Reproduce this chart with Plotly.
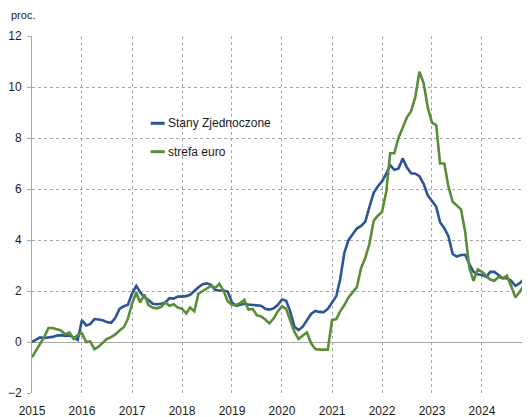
import pandas as pd
import plotly.graph_objects as go

# miesiace: styczen 2015 - grudzien 2024
miesiace = pd.date_range("2015-01-01", periods=120, freq="MS")

usa = [
    0.0, 0.1, 0.18, 0.16, 0.17, 0.2, 0.25, 0.27, 0.24, 0.25, 0.18, 0.08,
    0.86, 0.65, 0.7, 0.9, 0.88, 0.85, 0.78, 0.75, 0.95, 1.3, 1.4, 1.45,
    1.9, 2.2, 1.95, 1.75, 1.65, 1.5, 1.48, 1.5, 1.55, 1.72, 1.7, 1.78,
    1.78, 1.8, 1.85, 2.02, 2.15, 2.27, 2.3, 2.24, 2.04, 2.02, 2.02, 1.98,
    1.55, 1.42, 1.45, 1.5, 1.47, 1.45, 1.45, 1.42, 1.3, 1.27, 1.32, 1.45,
    1.67, 1.62, 1.2, 0.6, 0.47, 0.6, 0.85, 1.1, 1.22, 1.18, 1.17, 1.3,
    1.55, 1.8, 2.45, 3.5, 4.0, 4.25, 4.45, 4.55, 4.72, 5.3, 5.85, 6.1,
    6.3, 6.6, 6.94, 6.75, 6.8, 7.2, 6.85, 6.62, 6.6, 6.5, 6.2, 5.75,
    5.5, 5.3, 4.7, 4.46, 4.15, 3.45, 3.35, 3.41, 3.42, 3.05, 2.75, 2.66,
    2.63, 2.55, 2.75, 2.75, 2.63, 2.5, 2.5, 2.4, 2.2, 2.3, 2.45, 2.6,
]

strefa_euro = [
    -0.6, -0.33, -0.1, 0.2, 0.55, 0.55, 0.5, 0.45, 0.3, 0.38, 0.12, 0.28,
    0.34, 0.0, 0.02, -0.28, -0.18, -0.03, 0.12, 0.19, 0.3, 0.45, 0.58, 0.9,
    1.5, 1.95, 1.55, 1.86, 1.45, 1.35, 1.32, 1.38, 1.55, 1.42, 1.48, 1.35,
    1.3, 1.12, 1.35, 1.2, 1.9, 2.0, 2.1, 2.2, 2.12, 2.28, 2.0, 1.6,
    1.45, 1.45, 1.52, 1.65, 1.27, 1.3, 1.05, 1.0, 0.88, 0.73, 0.92, 1.2,
    1.4, 1.3, 0.85, 0.4, 0.12, 0.25, 0.38, -0.05, -0.28, -0.3, -0.3, -0.3,
    0.86, 0.9, 1.2, 1.45, 1.75, 1.95, 2.15, 2.9, 3.3, 3.85, 4.75, 4.95,
    5.1, 5.9, 7.4, 7.4, 8.0, 8.4, 8.8, 9.05, 9.6, 10.6, 10.15, 9.2,
    8.6, 8.5, 7.0, 7.0, 6.1, 5.5, 5.35, 5.2, 4.3, 2.9, 2.4, 2.85,
    2.75, 2.6, 2.45, 2.4, 2.55, 2.5, 2.6, 2.2, 1.75, 1.95, 2.2, 2.35,
]

NIEBIESKI = '#2c5596'
ZIELONY = '#5b8c38'
SIATKA = '#a6a6a6'
CZCIONKA = 'Liberation Sans, Arial, sans-serif'

fig = go.Figure()
fig.add_trace(go.Scatter(x=miesiace, y=usa, mode='lines', name='Stany Zjednoczone',
                         line=dict(color=NIEBIESKI, width=2.6)))
fig.add_trace(go.Scatter(x=miesiace, y=strefa_euro, mode='lines', name='strefa euro',
                         line=dict(color=ZIELONY, width=2.6)))

# legenda recznie - krotkie odcinki linii jak w oryginale
for y_leg, kolor, nazwa in [(0.7555, NIEBIESKI, 'Stany Zjednoczone'),
                            (0.676, ZIELONY, 'strefa euro')]:
    fig.add_shape(type='line', xref='paper', yref='paper',
                  x0=0.2383, x1=0.2665, y0=y_leg, y1=y_leg,
                  line=dict(color=kolor, width=3))
    fig.add_annotation(xref='paper', yref='paper', x=0.2695, y=y_leg,
                       text=nazwa, showarrow=False, xanchor='left', yanchor='middle',
                       font=dict(size=12, color='#1a1a1a', family=CZCIONKA))

fig.add_annotation(xref='paper', yref='paper', x=-0.046, y=1.058, text='proc.',
                   showarrow=False, xanchor='left', yanchor='middle',
                   font=dict(size=11, color='#1a1a1a', family=CZCIONKA))

fig.update_xaxes(type='date', range=['2015-01-01', '2024-12-17'],
                 tick0='2015-01-01', dtick='M12', tickformat='%Y',
                 showgrid=True, gridcolor=SIATKA, griddash='dot', gridwidth=1,
                 showline=False, zeroline=False, ticks='', ticklabelstandoff=9,
                 tickfont=dict(size=12, color='#1a1a1a', family=CZCIONKA),
                 automargin=False)
fig.update_yaxes(range=[-2, 12], dtick=2, tick0=0,
                 showgrid=True, gridcolor=SIATKA, griddash='dot', gridwidth=1,
                 zeroline=True, zerolinecolor=SIATKA, zerolinewidth=1,
                 showline=True, linecolor=SIATKA, linewidth=1,
                 ticks='outside', ticklen=4, tickcolor=SIATKA, ticklabelstandoff=3,
                 tickfont=dict(size=12, color='#1a1a1a', family=CZCIONKA),
                 automargin=False)

# strona html ma margines 8 px, wiec figura jest o tyle mniejsza
fig.update_layout(width=522, height=409, showlegend=False,
                  margin=dict(l=24, r=0, t=28, b=24),
                  plot_bgcolor='white', paper_bgcolor='white',
                  font=dict(family=CZCIONKA))

fig.write_html("out.html")
